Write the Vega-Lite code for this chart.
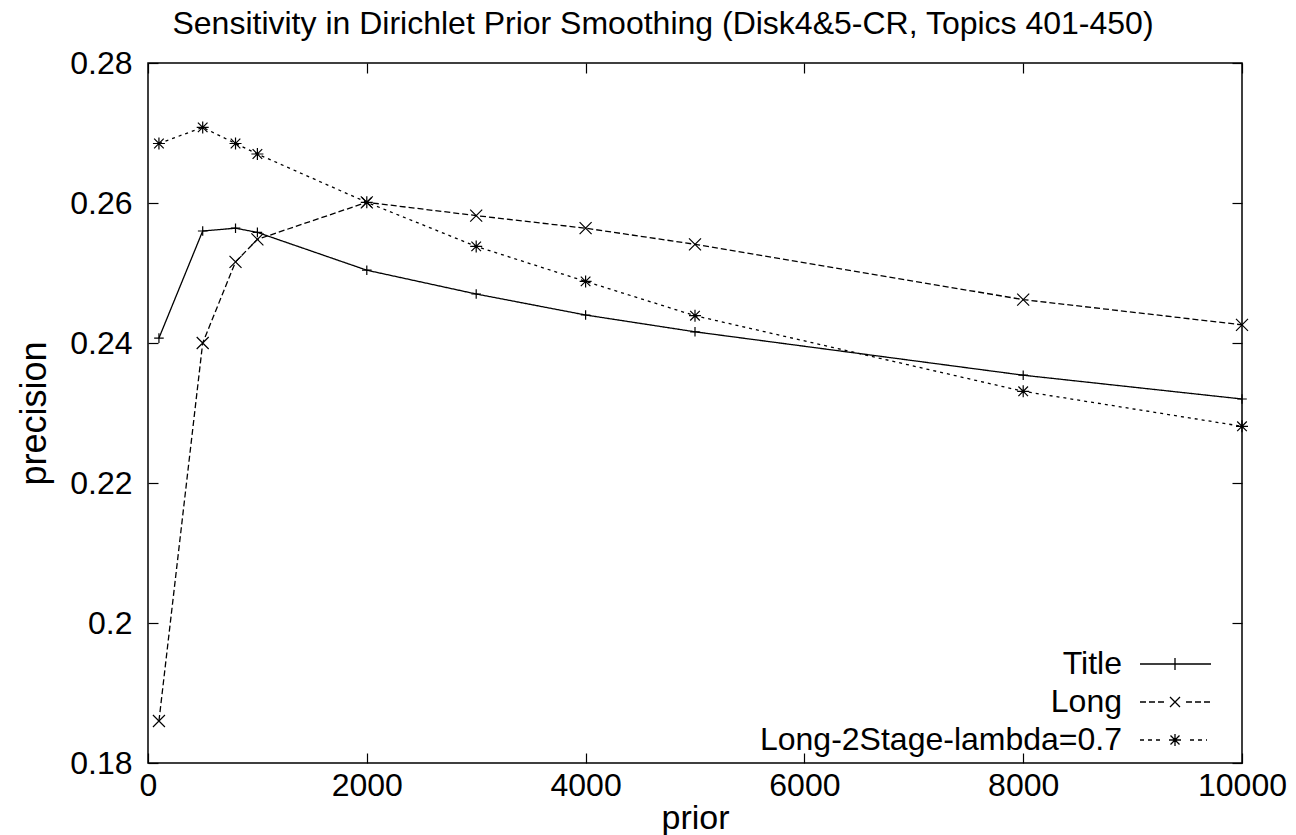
{
  "$schema": "https://vega.github.io/schema/vega-lite/v6.json",
  "width": 1094,
  "height": 700,
  "autosize": {"type": "none"},
  "padding": {"left": 148, "top": 63, "right": 54, "bottom": 72},
  "background": "white",
  "config": {
    "font": "Liberation Sans",
    "view": {"stroke": "black", "strokeWidth": 1.5},
    "axis": {"grid": false, "domain": false, "labelFont": "Liberation Sans", "titleFont": "Liberation Sans", "labelColor": "black", "titleColor": "black", "tickColor": "black", "tickWidth": 1.2, "labelFontSize": 32, "titleFontSize": 34, "titleFontWeight": "normal", "labelFlush": false}
  },
  "title": {"text": "Sensitivity in Dirichlet Prior Smoothing (Disk4&5-CR, Topics 401-450)", "fontSize": 32, "fontWeight": "normal", "font": "Liberation Sans", "color": "black", "anchor": "middle", "frame": "group", "offset": 6, "dx": -32},
  "data": {"values": [
    {"prior": 100, "precision": 0.2407, "series": "Title"},
    {"prior": 500, "precision": 0.2560, "series": "Title"},
    {"prior": 800, "precision": 0.2564, "series": "Title"},
    {"prior": 1000, "precision": 0.2558, "series": "Title"},
    {"prior": 2000, "precision": 0.2504, "series": "Title"},
    {"prior": 3000, "precision": 0.2470, "series": "Title"},
    {"prior": 4000, "precision": 0.2440, "series": "Title"},
    {"prior": 5000, "precision": 0.2416, "series": "Title"},
    {"prior": 8000, "precision": 0.2354, "series": "Title"},
    {"prior": 10000, "precision": 0.2320, "series": "Title"},
    {"prior": 100, "precision": 0.1860, "series": "Long"},
    {"prior": 500, "precision": 0.2400, "series": "Long"},
    {"prior": 800, "precision": 0.2516, "series": "Long"},
    {"prior": 1000, "precision": 0.2548, "series": "Long"},
    {"prior": 2000, "precision": 0.2601, "series": "Long"},
    {"prior": 3000, "precision": 0.2582, "series": "Long"},
    {"prior": 4000, "precision": 0.2564, "series": "Long"},
    {"prior": 5000, "precision": 0.2541, "series": "Long"},
    {"prior": 8000, "precision": 0.2462, "series": "Long"},
    {"prior": 10000, "precision": 0.2426, "series": "Long"},
    {"prior": 100, "precision": 0.2685, "series": "Long-2Stage-lambda=0.7"},
    {"prior": 500, "precision": 0.2708, "series": "Long-2Stage-lambda=0.7"},
    {"prior": 800, "precision": 0.2685, "series": "Long-2Stage-lambda=0.7"},
    {"prior": 1000, "precision": 0.2670, "series": "Long-2Stage-lambda=0.7"},
    {"prior": 2000, "precision": 0.2601, "series": "Long-2Stage-lambda=0.7"},
    {"prior": 3000, "precision": 0.2538, "series": "Long-2Stage-lambda=0.7"},
    {"prior": 4000, "precision": 0.2488, "series": "Long-2Stage-lambda=0.7"},
    {"prior": 5000, "precision": 0.2439, "series": "Long-2Stage-lambda=0.7"},
    {"prior": 8000, "precision": 0.2331, "series": "Long-2Stage-lambda=0.7"},
    {"prior": 10000, "precision": 0.2281, "series": "Long-2Stage-lambda=0.7"}
  ]},
  "layer": [
    {
      "mark": {"type": "line", "color": "black", "strokeWidth": 1.3},
      "encoding": {
        "x": {"field": "prior", "type": "quantitative", "title": "prior", "scale": {"domain": [0, 10000], "nice": false}, "axis": {"orient": "bottom", "values": [0, 2000, 4000, 6000, 8000, 10000], "format": "d", "tickSize": -10, "labelPadding": 17, "titlePadding": 0}},
        "y": {"field": "precision", "type": "quantitative", "title": "precision", "scale": {"domain": [0.18, 0.28], "nice": false, "zero": false}, "axis": {"orient": "left", "values": [0.18, 0.2, 0.22, 0.24, 0.26, 0.28], "format": ".2~f", "tickSize": -10, "labelPadding": 26, "titlePadding": 16, "titleFontSize": 36}},
        "strokeDash": {"field": "series", "type": "nominal", "legend": null, "scale": {"domain": ["Title", "Long", "Long-2Stage-lambda=0.7"], "range": [[1, 0], [6, 3], [3, 4]]}}
      }
    },
    {
      "mark": {"type": "point", "filled": false, "color": "black", "strokeWidth": 1.2, "size": 144, "opacity": 1},
      "encoding": {
        "x": {"field": "prior", "type": "quantitative", "axis": null},
        "y": {"field": "precision", "type": "quantitative", "axis": null},
        "shape": {"field": "series", "type": "nominal", "legend": null, "scale": {"domain": ["Title", "Long", "Long-2Stage-lambda=0.7"], "range": ["M-0.8,0L0.8,0M0,-0.8L0,0.8", "M-1,-1L1,1M-1,1L1,-1", "M-1,0L1,0M0,-1L0,1M-0.8,-0.8L0.8,0.8M-0.8,0.8L0.8,-0.8"]}}
      }
    },
    {
      "mark": {"type": "point", "opacity": 0},
      "encoding": {
        "x": {"field": "prior", "type": "quantitative", "axis": {"orient": "top", "values": [0, 2000, 4000, 6000, 8000, 10000], "labels": false, "title": null, "tickSize": -10}},
        "y": {"field": "precision", "type": "quantitative", "axis": {"orient": "right", "values": [0.18, 0.2, 0.22, 0.24, 0.26, 0.28], "labels": false, "title": null, "tickSize": -10}},
        "shape": {"field": "series", "type": "nominal", "scale": {"domain": ["Title", "Long", "Long-2Stage-lambda=0.7"], "range": [
          "M-35,0L36,0M0,-6L0,6M57,0",
          "M-35,0L-29,0M-26,0L-20,0M-17,0L-11,0M-5,-5L5,5M-5,5L5,-5M11,0L17,0M20,0L26,0M29,0L35,0M57,0",
          "M-35,0L-31,0M-27,0L-23,0M-19,0L-15,0M-6,0L6,0M0,-6L0,6M-4.5,-4.5L4.5,4.5M-4.5,4.5L4.5,-4.5M15,0L19,0M23,0L27,0M31,0L32,0M57,0"]},
          "legend": {"title": null, "orient": "bottom-right", "offset": 7, "labelFontSize": 32, "labelFont": "Liberation Sans", "labelColor": "black", "labelAlign": "right", "labelOffset": -69, "labelLimit": 600, "symbolSize": 4, "symbolOpacity": 1, "symbolStrokeColor": "black", "symbolStrokeWidth": 1.3, "symbolFillColor": "transparent", "rowPadding": 6}}
      }
    }
  ],
  "resolve": {"axis": {"x": "independent", "y": "independent"}, "scale": {"shape": "independent"}}
}
